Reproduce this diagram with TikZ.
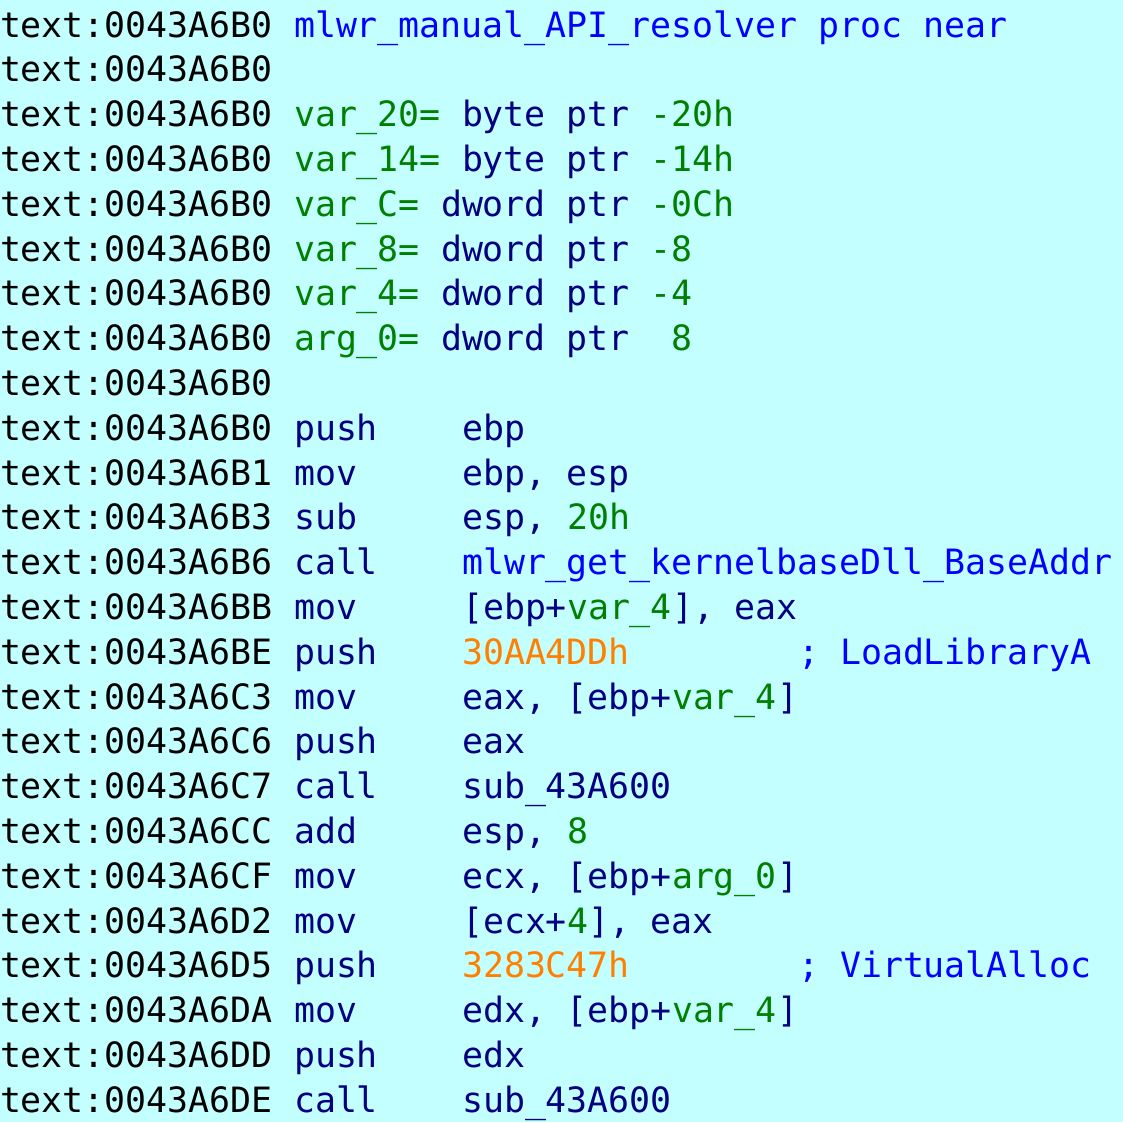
\documentclass[tikz,border=0pt]{standalone}
\usepackage{fontspec}
\newfontfamily\codefont{DejaVu Sans Mono}
\definecolor{idabg}{HTML}{C4FFFF}
\definecolor{idanavy}{HTML}{000080}
\definecolor{idablue}{HTML}{0000FF}
\definecolor{idagreen}{HTML}{008000}
\definecolor{idaorange}{HTML}{FF8000}
\newcommand\gn[1]{\textcolor{idagreen}{#1}}
\tikzset{
  asmtext/.style={anchor=base west, inner sep=0pt, outer sep=0pt,
    font={\codefont\fontsize{17.44pt}{22.4pt}\selectfont}},
  addrtext/.style={asmtext, text=black},
  instext/.style={asmtext, text=idanavy},
  symtext/.style={asmtext, text=idablue},
  immtext/.style={asmtext, text=idaorange},
}
\begin{document}
\begin{tikzpicture}[x=10.5pt, y=-22.4pt]
  \useasboundingbox (0,0.174) rectangle (53.476,25.219);
  \fill[idabg] (0,0.174) rectangle (53.476,25.219);

  % header and frame
  \node[addrtext] (a1) at (0,1) {text:0043A6B0};
  \node[symtext]  (m1) at (14,1) {mlwr\_manual\_API\_resolver proc near};
  \node[addrtext] (a2) at (0,2) {text:0043A6B0};
  \node[addrtext] (a3) at (0,3) {text:0043A6B0};
  \node[instext]  (m3) at (14,3) {\gn{var\_20=} byte ptr \gn{-20h}};
  \node[addrtext] (a4) at (0,4) {text:0043A6B0};
  \node[instext]  (m4) at (14,4) {\gn{var\_14=} byte ptr \gn{-14h}};
  \node[addrtext] (a5) at (0,5) {text:0043A6B0};
  \node[instext]  (m5) at (14,5) {\gn{var\_C=} dword ptr \gn{-0Ch}};
  \node[addrtext] (a6) at (0,6) {text:0043A6B0};
  \node[instext]  (m6) at (14,6) {\gn{var\_8=} dword ptr \gn{-8}};
  \node[addrtext] (a7) at (0,7) {text:0043A6B0};
  \node[instext]  (m7) at (14,7) {\gn{var\_4=} dword ptr \gn{-4}};
  \node[addrtext] (a8) at (0,8) {text:0043A6B0};
  \node[instext]  (m8) at (14,8) {\gn{arg\_0=} dword ptr\ \ \gn{8}};
  \node[addrtext] (a9) at (0,9) {text:0043A6B0};

  % code
  \node[addrtext] (a10) at (0,10) {text:0043A6B0};
  \node[instext]  (m10) at (14,10) {push};
  \node[instext]  (o10) at (22,10) {ebp};
  \node[addrtext] (a11) at (0,11) {text:0043A6B1};
  \node[instext]  (m11) at (14,11) {mov};
  \node[instext]  (o11) at (22,11) {ebp, esp};
  \node[addrtext] (a12) at (0,12) {text:0043A6B3};
  \node[instext]  (m12) at (14,12) {sub};
  \node[instext]  (o12) at (22,12) {esp, \gn{20h}};
  \node[addrtext] (a13) at (0,13) {text:0043A6B6};
  \node[instext]  (m13) at (14,13) {call};
  \node[symtext]  (o13) at (22,13) {mlwr\_get\_kernelbaseDll\_BaseAddr};
  \node[addrtext] (a14) at (0,14) {text:0043A6BB};
  \node[instext]  (m14) at (14,14) {mov};
  \node[instext]  (o14) at (22,14) {[ebp+\gn{var\_4}], eax};
  \node[addrtext] (a15) at (0,15) {text:0043A6BE};
  \node[instext]  (m15) at (14,15) {push};
  \node[immtext]  (o15) at (22,15) {30AA4DDh};
  \node[symtext]  (c15) at (38,15) {; LoadLibraryA};
  \node[addrtext] (a16) at (0,16) {text:0043A6C3};
  \node[instext]  (m16) at (14,16) {mov};
  \node[instext]  (o16) at (22,16) {eax, [ebp+\gn{var\_4}]};
  \node[addrtext] (a17) at (0,17) {text:0043A6C6};
  \node[instext]  (m17) at (14,17) {push};
  \node[instext]  (o17) at (22,17) {eax};
  \node[addrtext] (a18) at (0,18) {text:0043A6C7};
  \node[instext]  (m18) at (14,18) {call};
  \node[instext]  (o18) at (22,18) {sub\_43A600};
  \node[addrtext] (a19) at (0,19) {text:0043A6CC};
  \node[instext]  (m19) at (14,19) {add};
  \node[instext]  (o19) at (22,19) {esp, \gn{8}};
  \node[addrtext] (a20) at (0,20) {text:0043A6CF};
  \node[instext]  (m20) at (14,20) {mov};
  \node[instext]  (o20) at (22,20) {ecx, [ebp+\gn{arg\_0}]};
  \node[addrtext] (a21) at (0,21) {text:0043A6D2};
  \node[instext]  (m21) at (14,21) {mov};
  \node[instext]  (o21) at (22,21) {[ecx+\gn{4}], eax};
  \node[addrtext] (a22) at (0,22) {text:0043A6D5};
  \node[instext]  (m22) at (14,22) {push};
  \node[immtext]  (o22) at (22,22) {3283C47h};
  \node[symtext]  (c22) at (38,22) {; VirtualAlloc};
  \node[addrtext] (a23) at (0,23) {text:0043A6DA};
  \node[instext]  (m23) at (14,23) {mov};
  \node[instext]  (o23) at (22,23) {edx, [ebp+\gn{var\_4}]};
  \node[addrtext] (a24) at (0,24) {text:0043A6DD};
  \node[instext]  (m24) at (14,24) {push};
  \node[instext]  (o24) at (22,24) {edx};
  \node[addrtext] (a25) at (0,25) {text:0043A6DE};
  \node[instext]  (m25) at (14,25) {call};
  \node[instext]  (o25) at (22,25) {sub\_43A600};
\end{tikzpicture}
\end{document}
